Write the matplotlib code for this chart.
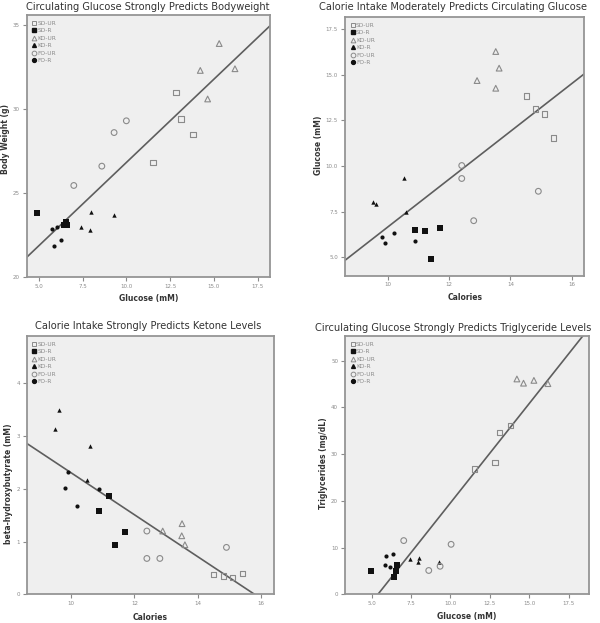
import numpy as np
import matplotlib
matplotlib.use('Agg')
import matplotlib.pyplot as plt
from matplotlib.lines import Line2D

groups = ['SD-UR', 'SD-R', 'KD-UR', 'KD-R', 'FO-UR', 'FO-R']

# panel 1: glucose vs body weight
p1_x = {'SD-UR': [12.84, 13.13, 13.8, 11.53], 'SD-R': [4.9, 6.44, 6.55, 6.63],
        'KD-UR': [15.3, 14.22, 16.2, 14.64], 'KD-R': [8.0, 9.31, 7.4, 7.9],
        'FO-UR': [7.0, 8.6, 9.3, 10.0], 'FO-R': [5.76, 6.05, 5.88, 6.28]}
p1_y = {'SD-UR': [31.0, 29.4, 28.5, 26.8], 'SD-R': [23.8, 23.1, 23.3, 23.1],
        'KD-UR': [33.9, 32.3, 32.4, 30.6], 'KD-R': [23.9, 23.7, 23.0, 22.8],
        'FO-UR': [25.45, 26.6, 28.6, 29.3], 'FO-R': [22.87, 22.95, 21.86, 22.18]}

# panel 2: calories vs glucose
p2_x = {'SD-UR': [14.52, 14.82, 15.12, 15.4], 'SD-R': [11.4, 11.2, 10.9, 11.7],
        'KD-UR': [13.52, 13.63, 12.91, 13.52], 'KD-R': [10.51, 9.51, 9.61, 10.6],
        'FO-UR': [12.41, 12.41, 14.91, 12.8], 'FO-R': [9.8, 9.9, 10.21, 10.9]}
p2_y = {'SD-UR': [13.83, 13.12, 12.83, 11.53], 'SD-R': [4.9, 6.42, 6.51, 6.6],
        'KD-UR': [16.26, 15.35, 14.67, 14.25], 'KD-R': [9.32, 8.05, 7.94, 7.45],
        'FO-UR': [10.02, 9.31, 8.61, 7.0], 'FO-R': [6.11, 5.8, 6.31, 5.91]}

# panel 3: calories vs beta-hydroxybutyrate
p3_x = {'SD-UR': [14.49, 14.81, 15.09, 15.4], 'SD-R': [11.19, 10.89, 11.7, 11.39],
        'KD-UR': [13.5, 13.49, 12.89, 13.59], 'KD-R': [9.61, 9.49, 10.59, 10.51],
        'FO-UR': [12.39, 12.39, 12.8, 14.9], 'FO-R': [9.91, 9.8, 10.2, 10.88]}
p3_y = {'SD-UR': [0.37, 0.35, 0.32, 0.39], 'SD-R': [1.86, 1.58, 1.18, 0.94],
        'KD-UR': [1.34, 1.11, 1.2, 0.94], 'KD-R': [3.5, 3.13, 2.81, 2.17],
        'FO-UR': [1.2, 0.68, 0.68, 0.89], 'FO-R': [2.32, 2.02, 1.67, 2.0]}

# panel 4: glucose vs triglycerides
p4_x = {'SD-UR': [11.53, 12.84, 13.11, 13.83], 'SD-R': [4.94, 6.44, 6.55, 6.63],
        'KD-UR': [14.22, 14.64, 15.3, 16.19], 'KD-R': [7.44, 8.0, 7.95, 9.3],
        'FO-UR': [7.03, 10.04, 8.62, 9.34], 'FO-R': [5.83, 5.91, 6.17, 6.33]}
p4_y = {'SD-UR': [26.8, 28.2, 34.7, 36.2], 'SD-R': [4.9, 3.8, 5.0, 6.3],
        'KD-UR': [46.1, 45.2, 45.8, 45.1], 'KD-R': [7.5, 7.7, 7.0, 6.95],
        'FO-UR': [11.5, 10.7, 5.1, 6.0], 'FO-R': [6.3, 8.3, 5.9, 8.6]}

titles = ['Circulating Glucose Strongly Predicts Bodyweight',
          'Calorie Intake Moderately Predicts Circulating Glucose',
          'Calorie Intake Strongly Predicts Ketone Levels',
          'Circulating Glucose Strongly Predicts Triglyceride Levels']
xlabels = ['Glucose (mM)', 'Calories', 'Calories', 'Glucose (mM)']
ylabels = ['Body Weight (g)', 'Glucose (mM)', 'beta-hydroxybutyrate (mM)', 'Triglycerides (mg/dL)']

style = {'SD-UR': ('s', False, 15), 'SD-R': ('s', True, 13),
         'KD-UR': ('^', False, 17), 'KD-R': ('^', True, 10),
         'FO-UR': ('o', False, 17), 'FO-R': ('o', True, 9)}

W, H = 600, 623
fig = plt.figure(figsize=(6, 6.23), dpi=100)
fig.patch.set_facecolor('white')


def box(l, t, r, b):
    return [l / W, 1 - b / H, (r - l) / W, (b - t) / H]


# axes boxes in pixels (left, top, right, bottom)
boxes = [(26.5, 15, 270, 277), (345, 17, 584, 275.5),
         (26.7, 336, 274, 594.3), (345, 336, 589, 594.3)]
xlims = [(4.3, 18.2), (8.6, 16.4), (8.6, 16.4), (3.3, 18.8)]
ylims = [(20, 35.6), (4.0, 18.15), (0, 4.9), (0, 55.3)]
xticks = [[5, 7.5, 10, 12.5, 15, 17.5], [10, 12, 14, 16], [10, 12, 14, 16], [5, 7.5, 10, 12.5, 15, 17.5]]
yticks = [[20, 25, 30, 35], [5, 7.5, 10, 12.5, 15, 17.5], [0, 1, 2, 3, 4], [0, 10, 20, 30, 40, 50]]
xfmt = ['%.1f', '%d', '%d', '%.1f']
yfmt = ['%d', '%.1f', '%d', '%d']
title_pos = [(148, 7), (453, 7), (148, 326), (453, 328)]
xlab_pos = [(149, 298), (465, 298), (150, 617), (467, 617)]
ylab_pos = [(6, 139), (318, 145), (9, 484), (323, 463)]
data = [(p1_x, p1_y), (p2_x, p2_y), (p3_x, p3_y), (p4_x, p4_y)]

for i in range(4):
    ax = fig.add_axes(box(*boxes[i]))
    ax.set_facecolor('#efefef')
    px, py = data[i]
    for g in groups:
        m, filled, s = style[g]
        if filled:
            ax.scatter(px[g], py[g], marker=m, s=s, c='#111111', linewidths=0, zorder=3)
        else:
            ax.scatter(px[g], py[g], marker=m, s=s, facecolors='none', edgecolors='#8a8a8a',
                       linewidths=0.8, zorder=3)
    # fit line over all points
    allx = np.concatenate([px[g] for g in groups])
    ally = np.concatenate([py[g] for g in groups])
    k, c = np.polyfit(allx, ally, 1)
    xx = np.array(xlims[i])
    ax.plot(xx, k * xx + c, color='#5e5e5e', lw=1.2, zorder=2)

    ax.set_xlim(xlims[i])
    ax.set_ylim(ylims[i])
    ax.set_xticks(xticks[i])
    ax.set_xticklabels([xfmt[i] % v for v in xticks[i]])
    ax.set_yticks(yticks[i])
    ax.set_yticklabels([yfmt[i] % v for v in yticks[i]])
    ax.tick_params(length=3, width=0.8, color='#8a8a8a', labelcolor='#8a8a8a', labelsize=4, pad=2)
    for sp in ax.spines.values():
        sp.set_color('#959595')
        sp.set_linewidth(1.3)

    handles = []
    for g in groups:
        m, filled, s = style[g]
        if filled:
            handles.append(Line2D([], [], ls='none', marker=m, markersize=2.8,
                                  markerfacecolor='#111111', markeredgecolor='#111111'))
        else:
            handles.append(Line2D([], [], ls='none', marker=m, markersize=3.4,
                                  markerfacecolor='none', markeredgecolor='#8a8a8a', markeredgewidth=0.7))
    ax.legend(handles, groups, loc='upper left', fontsize=4.2, frameon=False, labelcolor='#8a8a8a',
              handlelength=0.6, handletextpad=0.3, labelspacing=0.4, borderaxespad=0.6)

    fig.text(title_pos[i][0] / W, 1 - title_pos[i][1] / H, titles[i], ha='center', va='center',
             fontsize=7.1, color='#333333')
    fig.text(xlab_pos[i][0] / W, 1 - xlab_pos[i][1] / H, xlabels[i], ha='center', va='center',
             fontsize=5.5, fontweight='bold', color='#333333')
    fig.text(ylab_pos[i][0] / W, 1 - ylab_pos[i][1] / H, ylabels[i], ha='center', va='center',
             rotation=90, fontsize=5.5, fontweight='bold', color='#333333')

fig.savefig('out.png', dpi=100)
